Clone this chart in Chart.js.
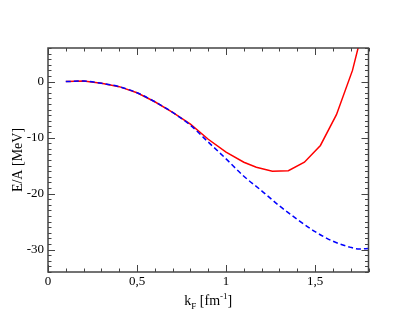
<!DOCTYPE html>
<html>
<head>
<meta charset="UTF-8" />
<title>E/A vs kF</title>
<script src="https://cdn.jsdelivr.net/npm/chart.js"></script>
<style>
  html, body { margin: 0; padding: 0; background: #fff; }
  #wrap { width: 415px; height: 321px; position: relative; }
</style>
</head>
<body>
<div id="wrap"><canvas id="chart"></canvas></div>
<script>
  // red solid curve
  const redK = [0.1, 0.2, 0.3, 0.4, 0.5, 0.6, 0.7, 0.8, 0.9, 1.0, 1.1, 1.17, 1.26, 1.35, 1.44, 1.53, 1.62, 1.71, 1.80];
  const redE = [0, 0.1, -0.3, -0.9, -2.0, -3.6, -5.5, -7.6, -10.3, -12.6, -14.4, -15.3, -16.0, -15.9, -14.4, -11.4, -5.9, 2.0, 13.4];
  // blue dashed curve
  const blueK = [0.1, 0.2, 0.3, 0.4, 0.5, 0.6, 0.7, 0.8, 0.9, 1.0, 1.1, 1.2, 1.3, 1.4, 1.5, 1.6, 1.7, 1.75, 1.8];
  const blueE = [0, 0.1, -0.3, -0.9, -2.0, -3.6, -5.5, -7.8, -10.8, -13.8, -16.9, -19.5, -22.2, -24.6, -26.8, -28.5, -29.6, -29.9, -29.8];

  const xMajor = [0, 0.5, 1, 1.5];
  const yMajor = [-30, -20, -10, 0];

  const SERIF = '"Liberation Serif", "DejaVu Serif", serif';

  // frame, inward ticks on all sides, axis titles
  const frame = {
    id: 'frame',
    afterDraw(chart) {
      const { ctx, chartArea: a, scales: { x, y } } = chart;
      ctx.save();
      ctx.strokeStyle = '#444';
      ctx.lineWidth = 1.5;
      ctx.strokeRect(a.left, a.top, a.right - a.left, a.bottom - a.top);
      ctx.lineWidth = 1;
      ctx.beginPath();
      for (let i = 0; i <= 18; i++) {
        const v = i / 10;
        const px = Math.round(x.getPixelForValue(v)) + 0.5;
        const len = (i % 5 === 0) ? 7 : 3.5;
        ctx.moveTo(px, a.bottom); ctx.lineTo(px, a.bottom - len);
        ctx.moveTo(px, a.top); ctx.lineTo(px, a.top + len);
      }
      for (let v = -34; v <= 6; v++) {
        const py = Math.round(y.getPixelForValue(v)) + 0.5;
        const len = (v % 10 === 0) ? 7 : 3.5;
        ctx.moveTo(a.left, py); ctx.lineTo(a.left + len, py);
        ctx.moveTo(a.right, py); ctx.lineTo(a.right - len, py);
      }
      ctx.stroke();

      // x title: k_F [fm^-1]
      ctx.fillStyle = '#000';
      ctx.textBaseline = 'alphabetic';
      const base = 305;
      const big = '14px ' + SERIF, small = '9px ' + SERIF;
      const parts = [
        { t: 'k', f: big, dy: 0 },
        { t: 'F', f: small, dy: 4 },
        { t: ' [fm', f: big, dy: 0 },
        { t: '-1', f: small, dy: -6 },
        { t: ']', f: big, dy: 0 }
      ];
      let w = 0;
      parts.forEach(p => { ctx.font = p.f; p.w = ctx.measureText(p.t).width; w += p.w; });
      let cx = (a.left + a.right) / 2 - w / 2;
      parts.forEach(p => { ctx.font = p.f; ctx.fillText(p.t, cx, base + p.dy); cx += p.w; });

      // y title
      ctx.font = big;
      ctx.textAlign = 'center';
      ctx.translate(22, (a.top + a.bottom) / 2);
      ctx.rotate(-Math.PI / 2);
      ctx.fillText('E/A [MeV]', 0, 0);
      ctx.restore();
    }
  };

  new Chart(document.getElementById('chart'), {
    type: 'line',
    data: {
      datasets: [
        {
          data: redK.map((k, i) => ({ x: k, y: redE[i] })),
          borderColor: '#ff0000',
          borderWidth: 1.5,
          pointRadius: 0,
          tension: 0,
          fill: false,
          order: 2
        },
        {
          data: blueK.map((k, i) => ({ x: k, y: blueE[i] })),
          borderColor: '#0000ff',
          borderWidth: 1.5,
          borderDash: [5, 3],
          pointRadius: 0,
          cubicInterpolationMode: 'monotone',
          fill: false,
          order: 1
        }
      ]
    },
    options: {
      responsive: true,
      maintainAspectRatio: false,
      animation: false,
      layout: { padding: { left: 0, top: 48, right: 46.5, bottom: 0 } },
      plugins: { legend: { display: false }, tooltip: { enabled: false } },
      scales: {
        x: {
          type: 'linear',
          min: 0, max: 1.8,
          grid: { display: false, drawTicks: false },
          border: { display: false },
          afterBuildTicks: s => { s.ticks = xMajor.map(v => ({ value: v })); },
          afterFit: s => { s.height = 49; },
          ticks: {
            padding: 2,
            color: '#000',
            font: { family: SERIF, size: 13 },
            maxRotation: 0,
            callback: v => String(v).replace('.', ',')
          }
        },
        y: {
          type: 'linear',
          min: -34, max: 6,
          grid: { display: false, drawTicks: false },
          border: { display: false },
          afterBuildTicks: s => { s.ticks = yMajor.map(v => ({ value: v })); },
          afterFit: s => { s.width = 48; },
          ticks: {
            padding: 4,
            color: '#000',
            font: { family: SERIF, size: 13 }
          }
        }
      }
    },
    plugins: [frame]
  });
</script>
</body>
</html>
